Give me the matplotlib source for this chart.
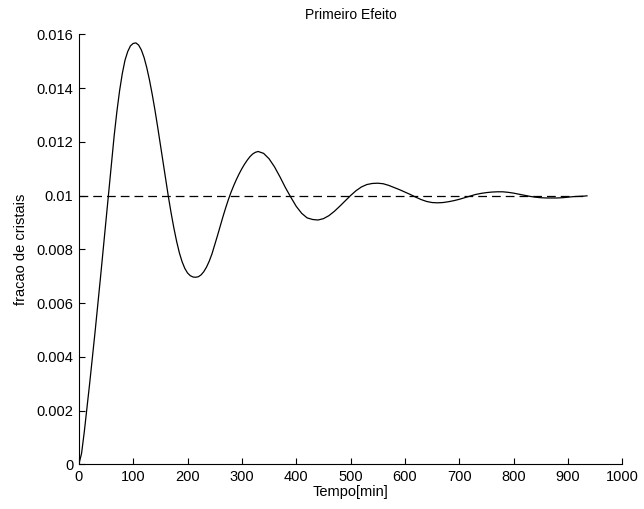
import numpy as np
import matplotlib
matplotlib.use('Agg')
import matplotlib.pyplot as plt

# valores (tempo em min, fracao de cristais)
tempo = [0, 5, 10, 15, 20, 25, 30, 35, 40, 45, 50, 55, 60, 65, 70, 75, 80, 85, 90, 95,
         100, 105, 110, 115, 120, 125, 130, 135, 140, 145, 150, 155, 160, 165, 170, 175,
         180, 185, 190, 195, 200, 205, 210, 215, 220, 225, 230, 235, 240, 245, 250, 255,
         260, 265, 270, 275, 280, 285, 290, 295, 300, 305, 310, 315, 320, 325, 330,
         340, 350, 360, 370, 380, 390, 400, 410, 420, 430, 440, 450, 460, 470, 480, 490,
         500, 510, 520, 530, 540, 550, 560, 570, 580, 590, 600, 610, 620, 630, 640, 650,
         660, 670, 680, 690, 700, 710, 720, 730, 740, 750, 760, 770, 780, 790, 800, 810,
         820, 830, 840, 850, 860, 870, 880, 890, 900, 910, 920, 930, 935]
fracao = [0.0, 0.0004, 0.0012, 0.0021, 0.00302, 0.00397, 0.00495, 0.00595, 0.00698,
          0.00803, 0.0091, 0.01017, 0.01122, 0.01222, 0.01312, 0.0139, 0.01454, 0.01504,
          0.01536, 0.01557, 0.01566, 0.01568, 0.01560, 0.01542, 0.01514, 0.01476, 0.01430,
          0.01377, 0.01319, 0.01256, 0.01190, 0.01123, 0.01057, 0.00993, 0.00933, 0.00878,
          0.00829, 0.00787, 0.00754, 0.00729, 0.00712, 0.00702, 0.00697, 0.00696, 0.00698,
          0.00705, 0.00717, 0.00734, 0.00756, 0.00783, 0.00816, 0.00850, 0.00885, 0.00920,
          0.00953, 0.00984, 0.01012, 0.01037, 0.01060, 0.01081, 0.01100, 0.01117, 0.01132,
          0.01145, 0.01155, 0.01161, 0.01164, 0.01157, 0.01137, 0.01107, 0.01070, 0.01030,
          0.00994, 0.00960, 0.00934, 0.00917, 0.00911, 0.00909, 0.00914, 0.00925, 0.00941,
          0.00960, 0.00980, 0.01000, 0.01018, 0.01032, 0.01041, 0.01045, 0.01046, 0.01044,
          0.01038, 0.01030, 0.01022, 0.01013, 0.01004, 0.00994, 0.00985, 0.00978, 0.00974,
          0.00973, 0.00974, 0.00977, 0.00981, 0.00986, 0.00992, 0.00998, 0.01004, 0.01008,
          0.01011, 0.01013, 0.01014, 0.01014, 0.01012, 0.01009, 0.01005, 0.01001, 0.00997,
          0.00994, 0.00992, 0.00991, 0.00991, 0.00991, 0.00992, 0.00994, 0.00996, 0.00997,
          0.00998, 0.00999]
referencia = 0.01
x_ticks = [0, 100, 200, 300, 400, 500, 600, 700, 800, 900, 1000]
y_ticks = [0, 0.002, 0.004, 0.006, 0.008, 0.01, 0.012, 0.014, 0.016]
y_labels = ['0', '0.002', '0.004', '0.006', '0.008', '0.01', '0.012', '0.014', '0.016']

plt.rcParams['font.family'] = ['Liberation Sans', 'DejaVu Sans']

fig = plt.figure(figsize=(6.44, 5.09), dpi=100)
ax = fig.add_axes([0.1224, 0.0878, 0.8439, 0.8448])

ax.plot(tempo, fracao, color='black', lw=0.9)
ax.plot([tempo[0], tempo[-1]], [referencia, referencia], color='black', lw=0.9,
        dashes=(7, 4))

ax.set_xlim(0, 1000)
ax.set_ylim(0, 0.016)
ax.set_xticks(x_ticks)
ax.set_yticks(y_ticks)
ax.set_yticklabels(y_labels)
ax.tick_params(direction='in', length=4, width=0.8, labelsize=10.5, pad=4)
for s in ['top', 'right']:
    ax.spines[s].set_visible(False)
for s in ['left', 'bottom']:
    ax.spines[s].set_linewidth(0.8)

ax.set_xlabel('Tempo[min]', fontsize=10.5, labelpad=1)
ax.set_ylabel('fracao de cristais', fontsize=10.5, labelpad=6)
ax.set_title('Primeiro Efeito', fontsize=10, pad=11)

fig.savefig('out.png', dpi=100)
